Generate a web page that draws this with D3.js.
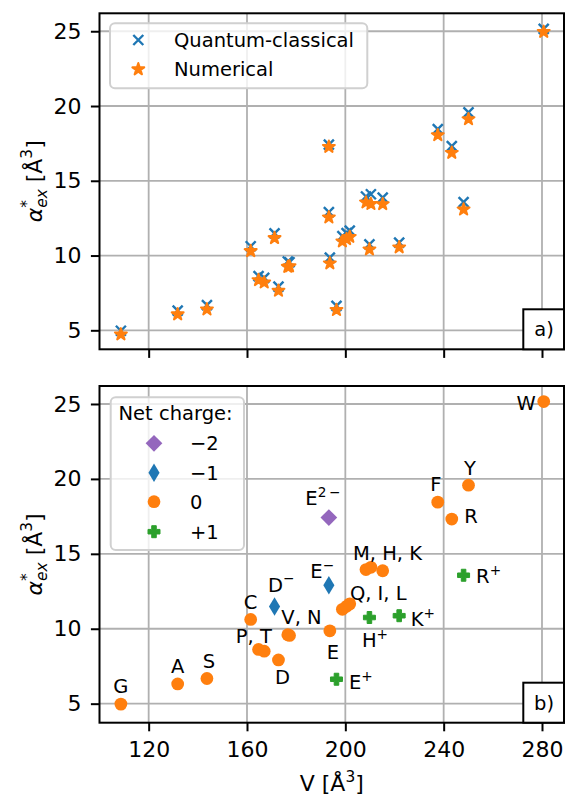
<!DOCTYPE html>
<html>
<head>
<meta charset="utf-8">
<script src="https://cdn.jsdelivr.net/npm/d3@7"></script>
<style>
  body { margin: 0; background: #fff; }
  text { font-family: "DejaVu Sans", sans-serif; fill: #000; }
</style>
</head>
<body>
<div id="chart"></div>
<script>
// residues (keys) with molecular volume and excess polarizability
const residues = ["G", "A", "S", "C", "P", "T", "D", "D-", "V", "N", "E", "E-", "E2-", "E+",
                  "Q", "I", "L", "M", "H", "K", "H+", "K+", "F", "R", "Y", "R+", "W"];
const volume = [108.7, 131.8, 143.7, 161.5, 164.7, 167.0, 172.8, 171.2, 176.6, 177.3, 193.7, 193.3, 193.3, 196.4,
                198.8, 200.5, 201.8, 208.4, 210.4, 215.2, 209.8, 221.9, 237.6, 243.3, 250.1, 248.1, 280.7];
const alphaQC = [4.97, 6.32, 6.68, 10.62, 8.62, 8.50, 7.92, 11.48, 9.60, 9.55, 9.86, 12.90, 17.42, 6.63,
                 11.30, 11.50, 11.66, 13.95, 14.10, 13.87, 10.75, 10.87, 18.45, 17.32, 19.58, 13.57, 25.16];
const alphaNum = [4.73, 6.07, 6.40, 10.30, 8.36, 8.20, 7.65, 11.17, 9.25, 9.28, 9.48, 12.55, 17.27, 6.36,
                  10.95, 11.10, 11.25, 13.55, 13.45, 13.44, 10.41, 10.55, 18.05, 16.87, 19.12, 13.08, 24.96];
const netCharge = [0, 0, 0, 0, 0, 0, 0, -1, 0, 0, 0, -1, -2, 1,
                   0, 0, 0, 0, 0, 0, 1, 1, 0, 0, 0, 1, 0];

const chargeLevels = [-2, -1, 0, 1];
const chargeLabels = ["\u22122", "\u22121", "0", "+1"];
const seriesNames = ["Quantum-classical", "Numerical"];

// annotation texts: anchor residue, base text, superscript
const labelAnchor = ["G", "A", "S", "C", "P", "D", "D-", "V", "E", "E-", "E2-", "E+",
                     "Q", "M", "H+", "K+", "F", "R", "Y", "R+", "W"];
const labelBase = ["G", "A", "S", "C", "P, T", "D", "D", "V, N", "E", "E", "E", "E",
                   "Q, I, L", "M, H, K", "H", "K", "F", "R", "Y", "R", "W"];
const labelSup = ["", "", "", "", "", "", "\u2212", "", "", "\u2212", "2\u2009\u2212", "+",
                  "", "", "+", "+", "", "", "", "+", ""];

const xTicks = [120, 160, 200, 240, 280];
const yTicks = [5, 10, 15, 20, 25];

// layout
const W = 566, H = 801;
const left = 99.5, right = 564;
const panels = [{ top: 13.3, bottom: 349.3, tag: "a)" }, { top: 386, bottom: 722.7, tag: "b)" }];
const colors = { blue: "#1f77b4", orange: "#ff7f0e", green: "#2ca02c", purple: "#9467bd" };
const tickFont = 22, smallFont = 19.5;

// label offsets from the anchor point (px), centre of capital letters
const labelPos = {
  "G": [0, -18, "middle"], "A": [0, -18, "middle"], "S": [2, -18, "middle"], "C": [0, -18, "middle"],
  "P": [-22.8, -14, "start"], "D": [4, 16.5, "middle"], "D-": [-6.5, -22, "start"],
  "V": [-6.5, -18, "start"], "E": [3, 21, "middle"], "E-": [-18.5, -14, "start"],
  "E2-": [-23.5, -19.5, "start"], "E+": [12.5, 2.4, "start"], "Q": [7.5, -16, "start"],
  "M": [-13, -16.6, "start"], "H+": [-7.5, 22.4, "start"], "K+": [11.5, 3, "start"],
  "F": [-2, -18, "middle"], "R": [12.5, -3, "start"], "Y": [1.5, -17.6, "middle"],
  "R+": [12.5, 1, "start"], "W": [-8, 1.2, "end"]
};

const x = d3.scaleLinear().domain([100, 288.95]).range([left, right]);

const svg = d3.select("#chart").append("svg")
  .attr("width", W).attr("height", H);

const rows = residues.map((r, i) => ({
  name: r, v: volume[i], qc: alphaQC[i], num: alphaNum[i], q: netCharge[i]
}));

// helper for text with super/subscripts
function rich(textSel, parts, fs) {
  let cur = 0;
  parts.forEach(p => {
    const str = p[0], kind = p[1] || "";
    let target = 0, size = fs;
    if (kind.includes("sup")) { target = -0.42 * fs; size = 0.7 * fs; }
    if (kind.includes("sub")) { target = 0.24 * fs; size = 0.7 * fs; }
    const ts = textSel.append("tspan")
      .attr("font-size", size)
      .text(str);
    if (target - cur !== 0) ts.attr("dy", target - cur);
    if (p[2]) ts.attr("dx", p[2]);
    if (kind.includes("i")) ts.attr("font-style", "italic");
    cur = target;
  });
}

// marker shapes
const thinDiamond = {
  draw(ctx, size) {
    const h = Math.sqrt(size), w = h * 0.6;
    ctx.moveTo(0, -h); ctx.lineTo(w, 0); ctx.lineTo(0, h); ctx.lineTo(-w, 0); ctx.closePath();
  }
};
const fatPlus = {
  draw(ctx, size) {
    const r = Math.sqrt(size) / 2, a = r * 0.38;
    ctx.moveTo(-a, -r); ctx.lineTo(a, -r); ctx.lineTo(a, -a); ctx.lineTo(r, -a);
    ctx.lineTo(r, a); ctx.lineTo(a, a); ctx.lineTo(a, r); ctx.lineTo(-a, r);
    ctx.lineTo(-a, a); ctx.lineTo(-r, a); ctx.lineTo(-r, -a); ctx.lineTo(-a, -a); ctx.closePath();
  }
};
const markerPath = {
  "-2": d3.symbol(d3.symbolSquare, 140)(),
  "-1": d3.symbol(thinDiamond, 86)(),
  "0": d3.symbol(d3.symbolCircle, 128)(),
  "1": d3.symbol(fatPlus, 144)(),
  "star": d3.symbol(d3.symbolStar, 44)()
};
const markerColor = { "-2": colors.purple, "-1": colors.blue, "0": colors.orange, "1": colors.green };

function drawMarker(g, kind, px, py) {
  if (kind === "x") {
    const s = 5;
    g.append("path")
      .attr("d", `M${px - s},${py - s}L${px + s},${py + s}M${px - s},${py + s}L${px + s},${py - s}`)
      .attr("stroke", colors.blue).attr("stroke-width", 2.4).attr("fill", "none");
  } else if (kind === "star") {
    g.append("path").attr("d", markerPath.star)
      .attr("transform", `translate(${px},${py})`)
      .attr("fill", colors.orange).attr("stroke", colors.orange).attr("stroke-width", 2)
      .attr("stroke-linejoin", "round");
  } else {
    const rot = kind === "-2" ? " rotate(45)" : "";
    const m = g.append("path").attr("d", markerPath[kind])
      .attr("transform", `translate(${px},${py})${rot}`)
      .attr("fill", markerColor[kind]);
    if (kind === "1") m.attr("stroke", markerColor[kind]).attr("stroke-width", 1).attr("stroke-linejoin", "round");
  }
}

panels.forEach((p, pi) => {
  const y = d3.scaleLinear().domain([3.73, 26.2]).range([p.bottom, p.top]);
  p.y = y;
  const g = svg.append("g");

  // grid
  g.selectAll(".gx").data(xTicks).enter().append("line")
    .attr("x1", d => x(d)).attr("x2", d => x(d))
    .attr("y1", p.top).attr("y2", p.bottom)
    .attr("stroke", "#b0b0b0").attr("stroke-width", 1.8);
  g.selectAll(".gy").data(yTicks).enter().append("line")
    .attr("x1", left).attr("x2", right)
    .attr("y1", d => y(d)).attr("y2", d => y(d))
    .attr("stroke", "#b0b0b0").attr("stroke-width", 1.8);

  // axes
  const yAxis = g.append("g")
    .attr("transform", `translate(${left},0)`)
    .call(d3.axisLeft(y).tickValues(yTicks).tickSize(8.6).tickPadding(9.5).tickSizeOuter(0));
  yAxis.select(".domain").remove();
  yAxis.selectAll("line").attr("stroke-width", 2);
  yAxis.selectAll("text").attr("font-size", tickFont).attr("font-family", "DejaVu Sans");

  const xAxis = g.append("g")
    .attr("transform", `translate(0,${p.bottom})`)
    .call(d3.axisBottom(x).tickValues(xTicks).tickSize(8.6).tickPadding(10).tickSizeOuter(0));
  xAxis.select(".domain").remove();
  xAxis.selectAll("line").attr("stroke-width", 2);
  xAxis.selectAll("text").attr("font-size", tickFont).attr("font-family", "DejaVu Sans");
  if (pi === 0) xAxis.selectAll("text").remove();

  // y label
  const yl = g.append("text")
    .attr("transform", `translate(41.5,${(p.top + p.bottom) / 2}) rotate(-90)`)
    .attr("text-anchor", "middle");
  rich(yl, [["\u03b1", "i"], ["*", "sup"], ["ex", "subi", -7.7], [" [\u00c5", ""], ["3", "sup"], ["]", ""]], tickFont);

  p.g = g;
});

// panel a: quantum-classical vs numerical
const ga = panels[0].g.append("g");
rows.forEach(d => drawMarker(ga, "x", x(d.v), panels[0].y(d.qc)));
rows.forEach(d => drawMarker(ga, "star", x(d.v), panels[0].y(d.num)));

// panel b: coloured by net charge
const gb = panels[1].g.append("g");
chargeLevels.forEach(c => {
  rows.filter(d => d.q === c).forEach(d => drawMarker(gb, String(c), x(d.v), panels[1].y(d.qc)));
});

// annotations
const byName = {};
rows.forEach(d => { byName[d.name] = d; });
labelAnchor.forEach((a, i) => {
  const d = byName[a];
  const off = labelPos[a];
  const t = gb.append("text")
    .attr("x", x(d.v) + off[0])
    .attr("y", panels[1].y(d.qc) + off[1] + 0.365 * smallFont)
    .attr("text-anchor", off[2])
    .attr("font-size", smallFont);
  const parts = [[labelBase[i], ""]];
  if (labelSup[i]) parts.push([labelSup[i], "sup"]);
  rich(t, parts, smallFont);
});

// frames and panel tags
panels.forEach(p => {
  const g = svg.append("g");
  g.append("rect")
    .attr("x", left).attr("y", p.top)
    .attr("width", right - left).attr("height", p.bottom - p.top)
    .attr("fill", "none").attr("stroke", "#000").attr("stroke-width", 2);
  g.append("rect")
    .attr("x", 523.3).attr("y", p.bottom - 40)
    .attr("width", right - 523.3).attr("height", 40)
    .attr("fill", "#fff").attr("stroke", "#000").attr("stroke-width", 2);
  g.append("text")
    .attr("x", 544).attr("y", p.bottom - 20 + 0.365 * smallFont)
    .attr("text-anchor", "middle").attr("font-size", smallFont)
    .text(p.tag);
});

// legend a
const la = svg.append("g");
la.append("rect")
  .attr("x", 110).attr("y", 23.3).attr("width", 257.3).attr("height", 65)
  .attr("rx", 5).attr("fill", "#fff").attr("fill-opacity", 0.8)
  .attr("stroke", "#d0d0d0").attr("stroke-width", 2);
seriesNames.forEach((s, i) => {
  const yy = 40 + i * 29.3;
  drawMarker(la, i === 0 ? "x" : "star", 138.3, yy);
  la.append("text").attr("x", 174).attr("y", yy + 0.365 * smallFont)
    .attr("font-size", smallFont).text(s);
});

// legend b
const lb = svg.append("g");
lb.append("rect")
  .attr("x", 110.7).attr("y", 397.3).attr("width", 133.3).attr("height", 152.7)
  .attr("rx", 5).attr("fill", "#fff").attr("fill-opacity", 0.8)
  .attr("stroke", "#d0d0d0").attr("stroke-width", 2);
lb.append("text").attr("x", 118.5).attr("y", 413.3 + 0.365 * smallFont)
  .attr("font-size", smallFont).text("Net charge:");
chargeLevels.forEach((c, i) => {
  const yy = [443.3, 472.7, 501.7, 531.7][i];
  drawMarker(lb, String(c), 154, yy);
  lb.append("text").attr("x", 190).attr("y", yy + 0.365 * smallFont)
    .attr("font-size", smallFont).text(chargeLabels[i]);
});

// x label
const xl = svg.append("text")
  .attr("x", (left + right) / 2).attr("y", 791)
  .attr("text-anchor", "middle");
rich(xl, [["V [\u00c5", ""], ["3", "sup"], ["]", ""]], tickFont);
</script>
</body>
</html>
